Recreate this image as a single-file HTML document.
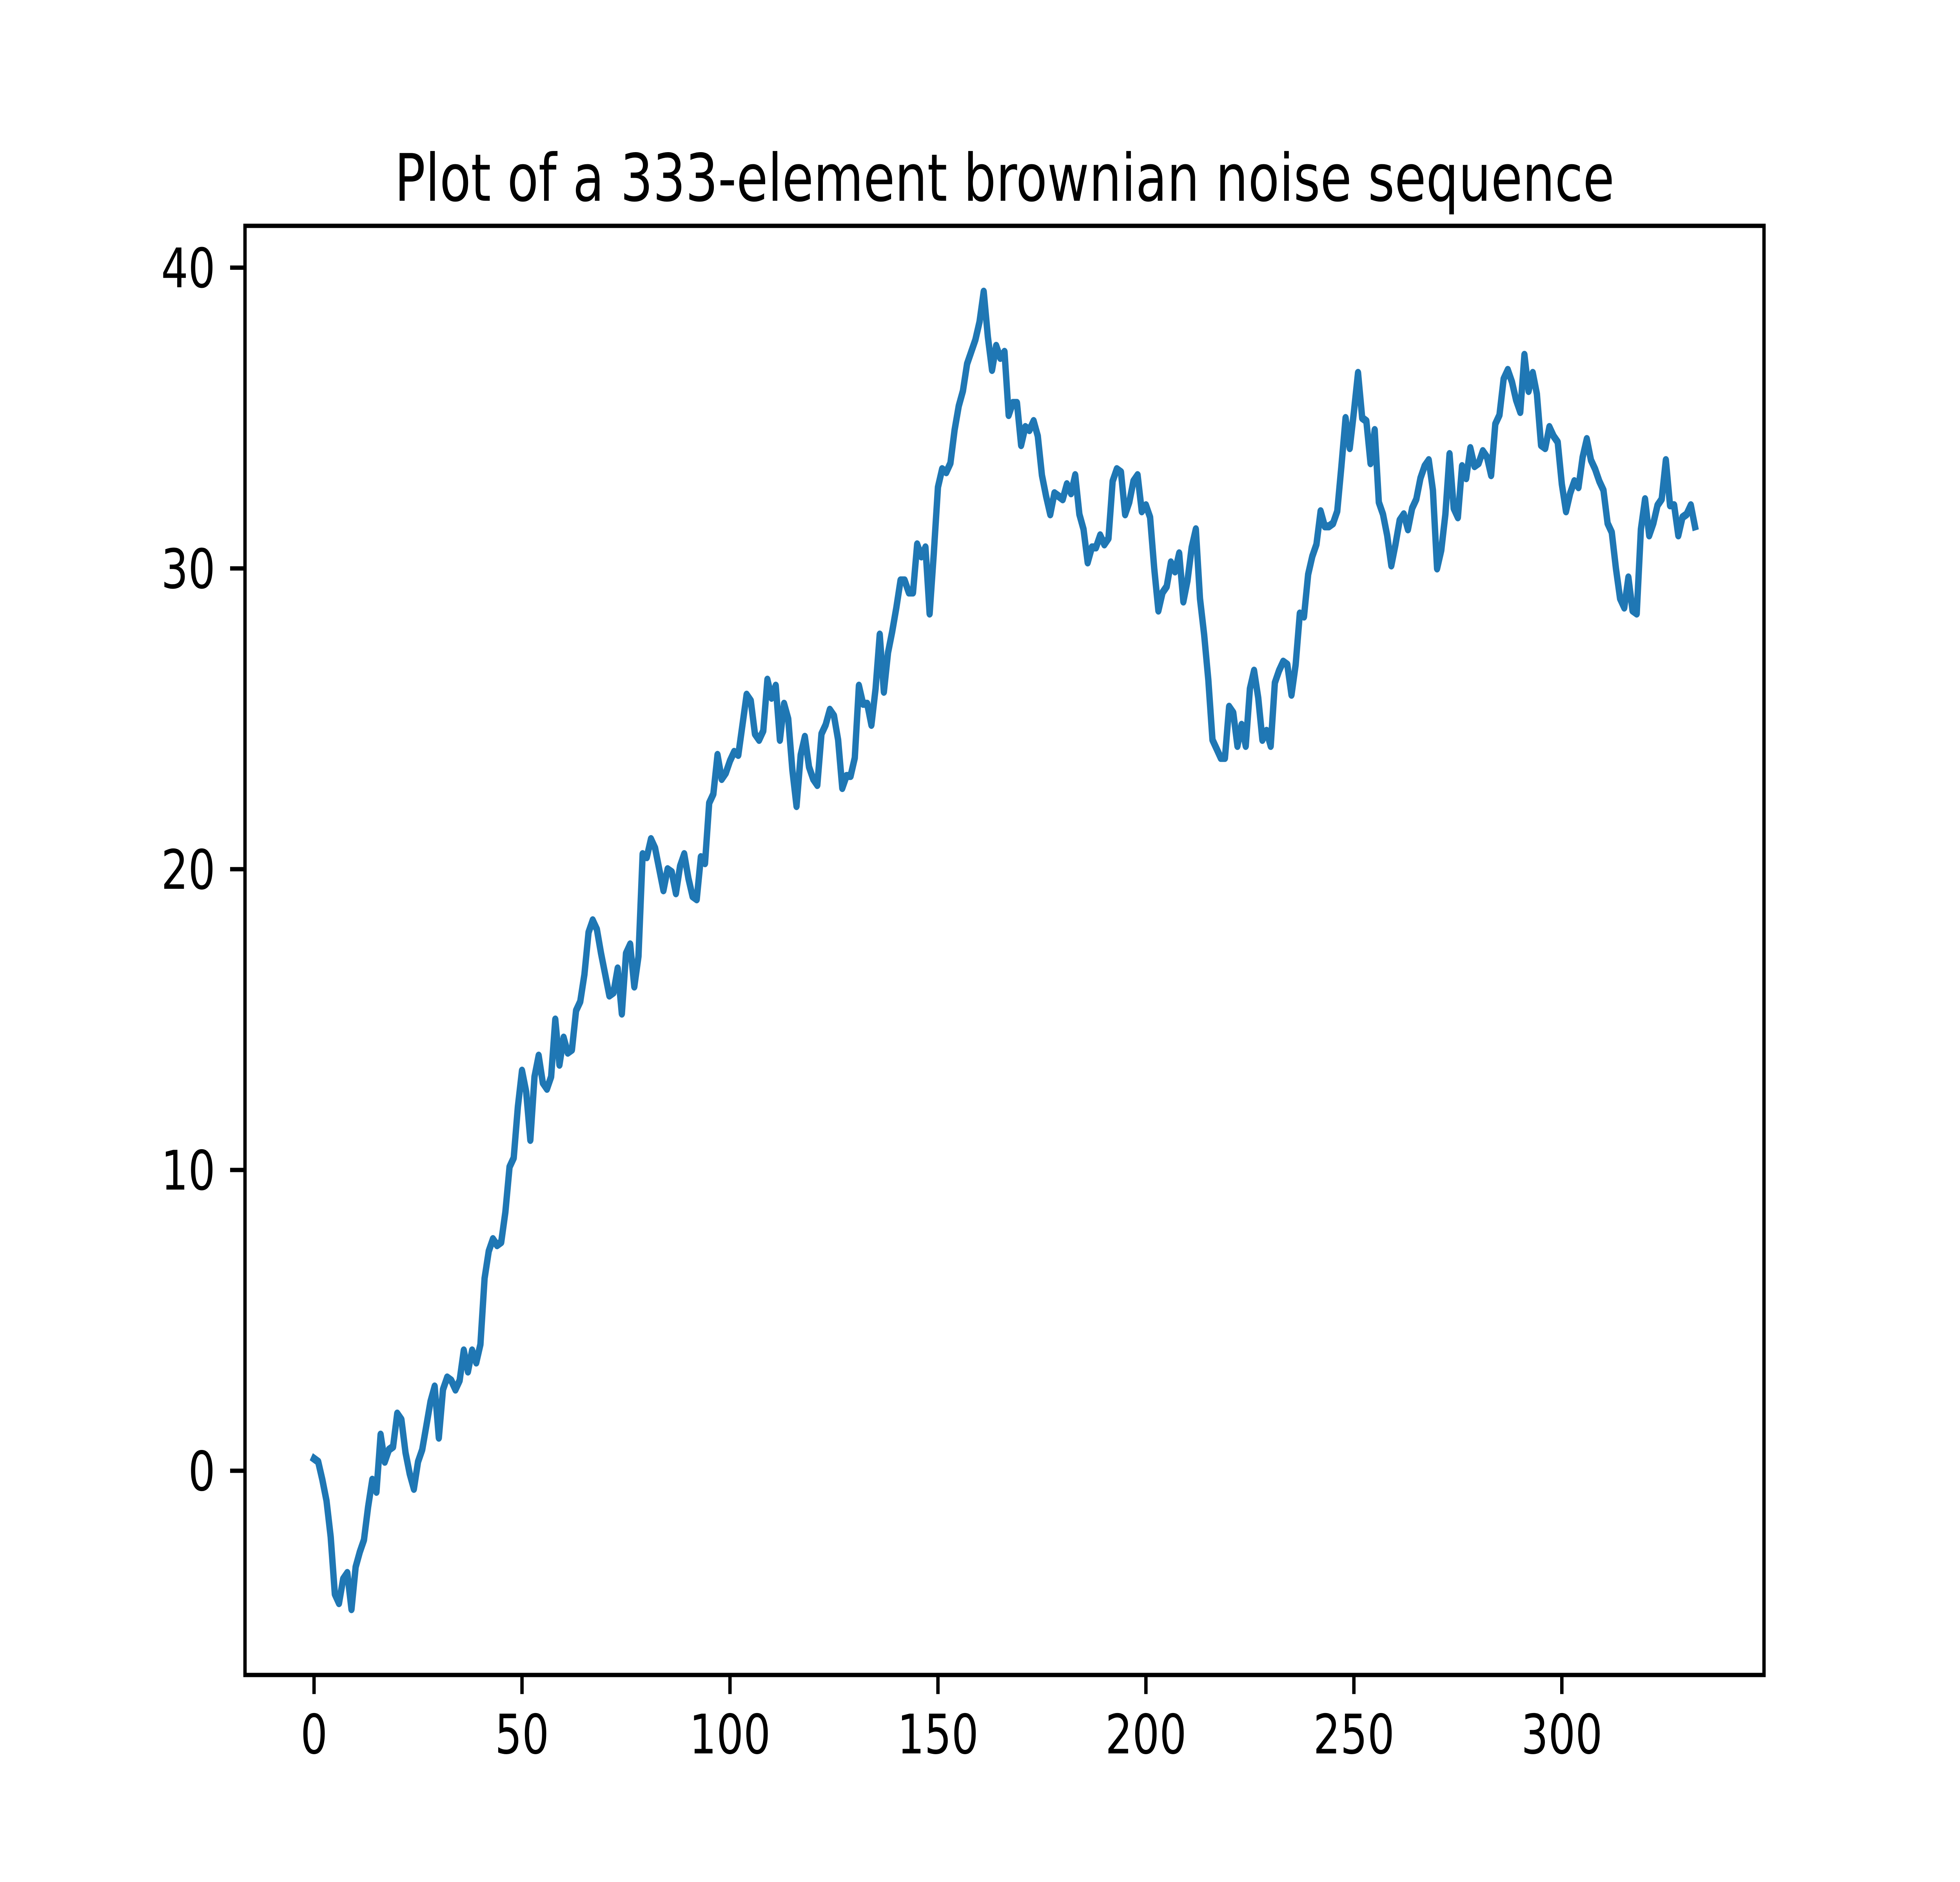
<!DOCTYPE html>
<html><head><meta charset="utf-8"><style>html,body{margin:0;padding:0;background:#fff;width:100%;height:100%;overflow:hidden}svg{display:block;width:100vw;height:100vh}</style></head>
<body>
<svg id="chart" viewBox="0 0 6400 4800" preserveAspectRatio="none" xmlns="http://www.w3.org/2000/svg" font-family="DejaVu Sans, Liberation Sans, sans-serif">
<rect width="6400" height="4800" fill="#fff"/>
<text x="3280" y="512" font-size="167" text-anchor="middle" fill="#000">Plot of a 333-element brownian noise sequence</text>
<g id="plot"></g>
</svg>
<script>
const seriesValues = [0.4,0.3,-0.3,-1.0,-2.2,-4.1,-4.4,-3.6,-3.4,-4.6,-3.2,-2.7,-2.3,-1.2,-0.3,-0.7,1.2,0.3,0.7,0.8,1.9,1.7,0.6,-0.1,-0.6,0.3,0.7,1.5,2.3,2.8,1.1,2.7,3.1,3.0,2.7,3.0,4.0,3.3,4.0,3.6,4.2,6.4,7.3,7.7,7.5,7.6,8.6,10.1,10.4,12.1,13.3,12.6,11.0,13.1,13.8,12.9,12.7,13.1,15.0,13.5,14.4,13.9,14.0,15.3,15.6,16.5,17.9,18.3,18.0,17.2,16.5,15.8,15.9,16.7,15.2,17.2,17.5,16.1,17.1,20.5,20.4,21.0,20.7,20.0,19.3,20.0,19.9,19.2,20.1,20.5,19.7,19.1,19.0,20.4,20.2,22.2,22.5,23.8,23.0,23.2,23.6,23.9,23.8,24.8,25.8,25.6,24.5,24.3,24.6,26.3,25.7,26.1,24.3,25.5,25.0,23.3,22.1,23.8,24.4,23.4,23.0,22.8,24.5,24.8,25.3,25.1,24.3,22.7,23.1,23.1,23.7,26.1,25.5,25.5,24.8,26.0,27.8,25.9,27.2,27.9,28.7,29.6,29.6,29.2,29.2,30.8,30.4,30.7,28.5,30.5,32.7,33.3,33.2,33.5,34.6,35.4,35.9,36.8,37.2,37.6,38.2,39.2,37.7,36.6,37.4,37.0,37.2,35.1,35.5,35.5,34.1,34.7,34.6,34.9,34.4,33.1,32.4,31.8,32.5,32.4,32.3,32.8,32.5,33.1,31.8,31.3,30.2,30.7,30.7,31.1,30.8,31.0,32.9,33.3,33.2,31.8,32.2,32.9,33.1,31.9,32.1,31.7,30.0,28.6,29.2,29.4,30.2,29.9,30.5,28.9,29.6,30.7,31.3,29.0,27.8,26.3,24.3,24.0,23.7,23.7,25.4,25.2,24.1,24.8,24.1,26.0,26.6,25.7,24.3,24.6,24.1,26.2,26.6,26.9,26.8,25.8,26.8,28.5,28.4,29.8,30.4,30.8,31.9,31.4,31.4,31.5,31.9,33.4,35.0,34.0,35.2,36.5,35.0,34.9,33.5,34.6,32.2,31.8,31.1,30.1,30.8,31.6,31.8,31.3,32.0,32.3,33.0,33.4,33.6,32.6,30.0,30.6,31.8,33.8,32.0,31.7,33.4,33.0,34.0,33.4,33.5,33.9,33.7,33.1,34.8,35.1,36.3,36.6,36.2,35.6,35.2,37.1,35.9,36.5,35.8,34.1,34.0,34.7,34.4,34.2,32.8,31.9,32.5,32.9,32.7,33.7,34.3,33.6,33.3,32.9,32.6,31.5,31.2,30.0,29.0,28.7,29.7,28.6,28.5,31.3,32.3,31.1,31.5,32.1,32.3,33.6,32.1,32.1,31.1,31.7,31.8,32.1,31.4];
const xTicks = [0,50,100,150,200,250,300];
const yTicks = [0,10,20,30,40];

const L=800,R=5760,T=576,B=4272;
const n=seriesValues.length;
const xmin=0,xmax=n-1,xm=(xmax-xmin)*0.05;
const ymin=Math.min(...seriesValues),ymax=Math.max(...seriesValues),ym=(ymax-ymin)*0.05;
const X=v=>L+(v-(xmin-xm))/((xmax+xm)-(xmin-xm))*(R-L);
const Y=v=>B-(v-(ymin-ym))/((ymax+ym)-(ymin-ym))*(B-T);
const NS='http://www.w3.org/2000/svg';
const g=document.getElementById('plot');
function mk(tag,attrs){const e=document.createElementNS(NS,tag);for(const k in attrs)e.setAttribute(k,attrs[k]);g.appendChild(e);return e;}

const line=mk('polyline',{points:seriesValues.map((v,i)=>X(i).toFixed(1)+','+Y(v).toFixed(1)).join(' '),fill:'none',stroke:'#1f77b4','stroke-width':20.8,'stroke-linejoin':'round','stroke-linecap':'square'});



const frame=mk('rect',{x:L,y:T,width:R-L,height:B-T,fill:'none',stroke:'#000','stroke-width':11});



xTicks.forEach(t=>{
  const x=X(t);
  const tk=mk('line',{x1:x,x2:x,y1:B,y2:B+48.6,stroke:'#000','stroke-width':11});
  
  
  const lb=mk('text',{x:x,y:4472,'font-size':139,'text-anchor':'middle',fill:'#000'});
  lb.textContent=String(t);
  
  
});
yTicks.forEach(t=>{
  const y=Y(t);
  const tk=mk('line',{x1:L-48.6,x2:L,y1:y,y2:y,stroke:'#000','stroke-width':11});
  
  
  const lb=mk('text',{x:703,y:y+50,'font-size':139,'text-anchor':'end',fill:'#000'});
  lb.textContent=String(t);
  
  
});
</script>
</body></html>
